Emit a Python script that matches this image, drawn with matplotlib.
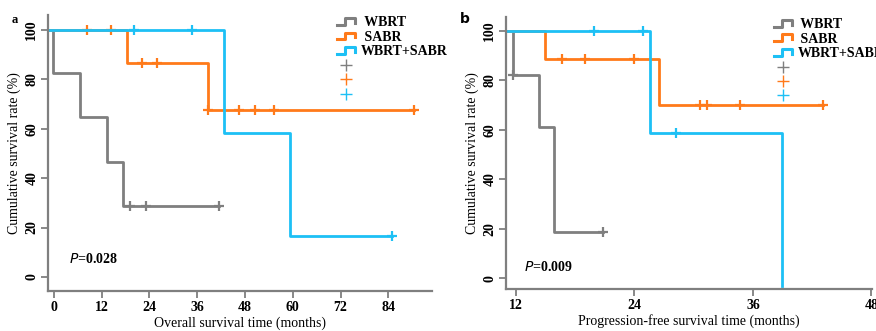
import numpy as np
import matplotlib
matplotlib.use("Agg")
import matplotlib.pyplot as plt
from matplotlib.legend_handler import HandlerBase
from matplotlib.lines import Line2D

plt.rcParams['font.family'] = ['Liberation Serif', 'DejaVu Serif']

GRAY = '#7f7f7f'
ORANGE = '#ff7a1a'
BLUE = '#1dc0f5'

groups = ['WBRT', 'SABR', 'WBRT+SABR']
colors = [GRAY, ORANGE, BLUE]

# overall survival (panel a)
os_wbrt_t = [-1.5, -0.3, 6.5, 13.3, 17.3, 41.5]
os_wbrt_s = [100, 82.6, 64.6, 46.6, 28.7, 28.7]
os_wbrt_cens = [19.1, 23.0, 41.5]

os_sabr_t = [-1.5, 18.3, 38.8, 90.5]
os_sabr_s = [100, 86.4, 67.7, 67.7]
os_sabr_cens = [8.4, 14.3, 22.2, 26.0, 38.8, 46.5, 50.5, 55.3, 90.5]

os_combo_t = [-1.5, 42.6, 59.3, 85.0]
os_combo_s = [100, 58.4, 16.7, 16.7]
os_combo_cens = [20.1, 34.8, 85.0]

# progression-free survival (panel b)
pfs_wbrt_t = [11.0, 11.7, 14.3, 15.9, 20.8]
pfs_wbrt_s = [100, 82.1, 61.2, 18.6, 18.6]
pfs_wbrt_cens = [11.7, 20.8]

pfs_sabr_t = [11.0, 15.0, 26.5, 43.1]
pfs_sabr_s = [100, 88.8, 70.0, 70.0]
pfs_sabr_cens = [16.7, 19.0, 24.0, 30.6, 31.4, 34.7, 43.1]

pfs_combo_t = [11.0, 25.6, 38.9, 38.9]
pfs_combo_s = [100, 58.8, -3.1, -3.1]
pfs_combo_cens = [19.9, 24.9, 28.2]

os_ticks = [0, 12, 24, 36, 48, 60, 72, 84]
pfs_ticks = [12, 24, 36, 48]
y_ticks = [0, 20, 40, 60, 80, 100]


class StepHandler(HandlerBase):
    def create_artists(self, legend, orig, xd, yd, w, h, fontsize, trans):
        xs = [xd, xd + w * 0.45, xd + w * 0.45, xd + w, xd + w]
        ys = [yd + h * 0.15, yd + h * 0.15, yd + h * 0.85, yd + h * 0.85, yd + h * 0.35]
        ln = Line2D(xs, ys, color=orig.get_color(), lw=2.2, transform=trans)
        return [ln]


def surv_at(t, s, c):
    idx = np.searchsorted(t, c, side='right') - 1
    return np.array(s)[idx]


def draw_panel(ax, curves, xlim, ylim, xticks, xlabel, ptext, ptxy, leg_x):
    for (t, s, cens), col in zip(curves, colors):
        ax.step(t, s, where='post', color=col, lw=2.0)
        ax.plot(cens, surv_at(t, s, cens), ls='none', marker='+', ms=7,
                mew=1.6, color=col)
    ax.set_xlim(*xlim)
    ax.set_ylim(*ylim)
    ax.set_xticks(xticks)
    ax.set_yticks(y_ticks)
    ax.set_yticklabels([str(v) for v in y_ticks], rotation=90, va='center')
    ax.tick_params(direction='out', length=5, width=1.3, color=GRAY,
                   labelsize=10, pad=2)
    for lab in ax.get_xticklabels() + ax.get_yticklabels():
        lab.set_fontweight('bold')
    for side in ['top', 'right']:
        ax.spines[side].set_visible(False)
    for side in ['left', 'bottom']:
        ax.spines[side].set_color(GRAY)
        ax.spines[side].set_linewidth(1.6)
    ax.set_xlabel(xlabel, fontsize=10, labelpad=2)
    ax.set_ylabel('Cumulative survival rate (%)', fontsize=10, labelpad=3)
    ax.text(ptxy[0], ptxy[1], r'$\mathbf{\it{P}}$' + ptext, fontsize=10,
            fontweight='bold', transform=ax.transAxes)

    step_h = [Line2D([], [], color=c) for c in colors]
    plus_h = [Line2D([], [], ls='none', marker='+', ms=9, mew=1.0, color=c)
              for c in colors]
    ax.legend(step_h + plus_h, [' WBRT', ' SABR', 'WBRT+SABR', '', '', ''],
              handler_map={h: StepHandler() for h in step_h},
              loc='upper left', bbox_to_anchor=(leg_x, 1.03), frameon=False,
              prop={'weight': 'bold', 'size': 10}, labelspacing=0.1,
              handlelength=1.3, handletextpad=0.4, borderpad=0.2)


fig = plt.figure(figsize=(8.76, 3.31), dpi=100)
ax1 = fig.add_axes([0.0548, 0.1208, 0.4384, 0.8338])
ax2 = fig.add_axes([0.5776, 0.1269, 0.4178, 0.8227])

draw_panel(ax1,
           [(os_wbrt_t, os_wbrt_s, os_wbrt_cens),
            (os_sabr_t, os_sabr_s, os_sabr_cens),
            (os_combo_t, os_combo_s, os_combo_cens)],
           (-1.5, 95), (-5.7, 106), os_ticks,
           'Overall survival time (months)', '=0.028', (0.055, 0.1), 0.727)
draw_panel(ax2,
           [(pfs_wbrt_t, pfs_wbrt_s, pfs_wbrt_cens),
            (pfs_sabr_t, pfs_sabr_s, pfs_sabr_cens),
            (pfs_combo_t, pfs_combo_s, pfs_combo_cens)],
           (11, 48.05), (-4.3, 105.8), pfs_ticks,
           'Progression-free survival time (months)', '=0.009', (0.05, 0.065), 0.705)

fig.text(0.013, 0.93, 'a', fontsize=9, fontweight='bold')
fig.text(0.525, 0.93, 'b', fontsize=10, fontweight='bold', family='DejaVu Sans')

fig.savefig('out.png', dpi=100)
